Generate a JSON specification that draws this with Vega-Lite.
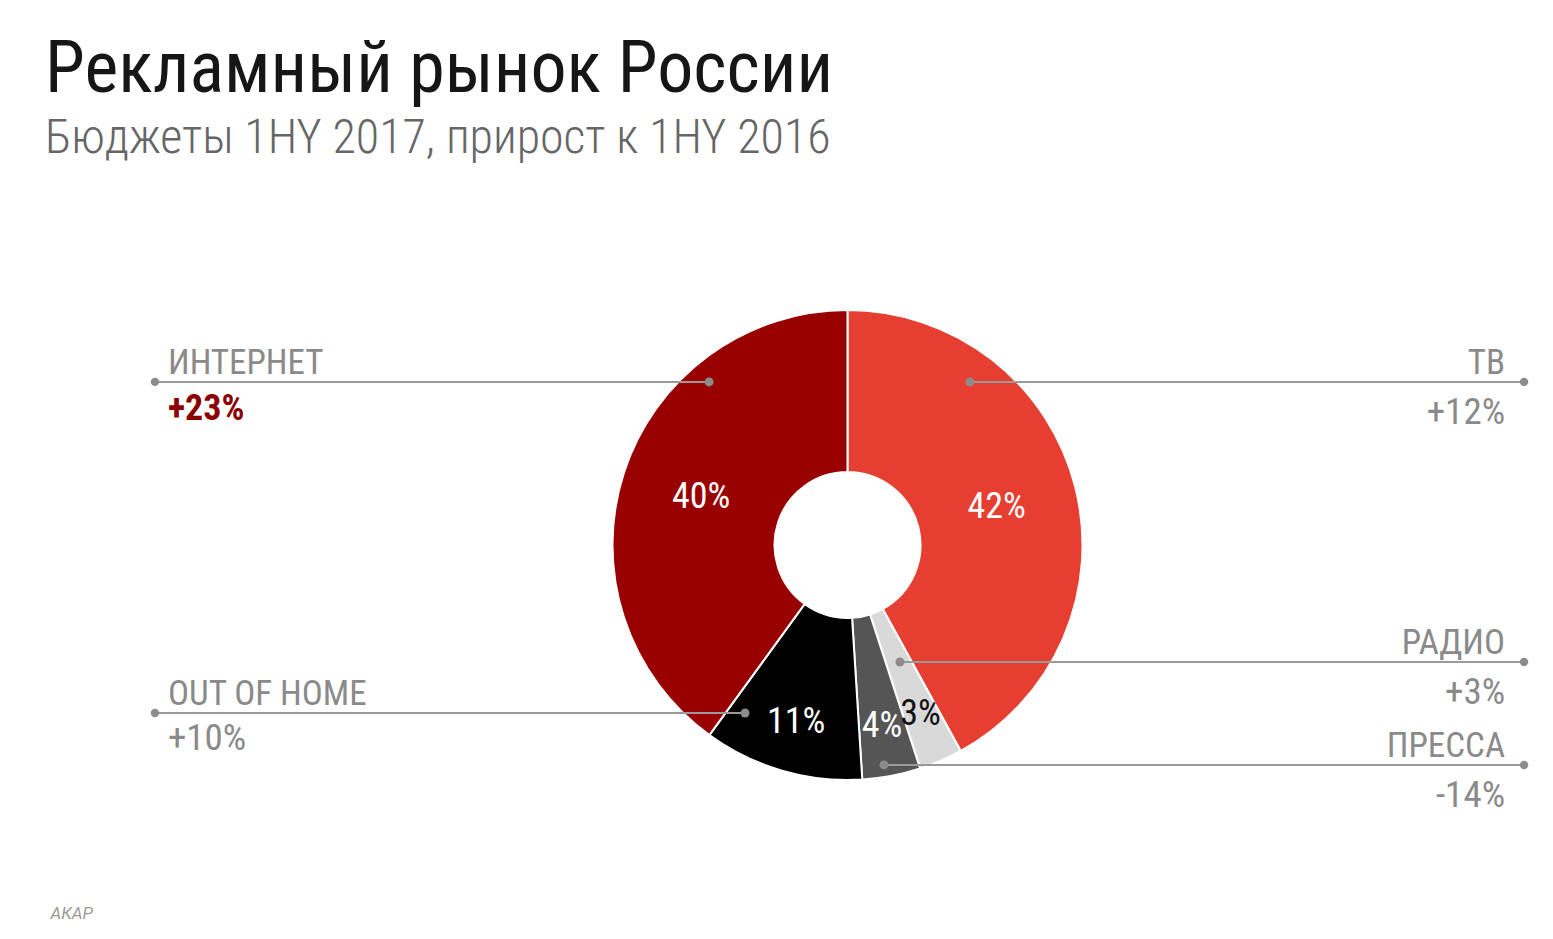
{
  "$schema": "https://vega.github.io/schema/vega-lite/v6.json",
  "width": 1411,
  "height": 690,
  "autosize": {"type": "none"},
  "padding": {"left": 142, "right": 0, "top": 200, "bottom": 49},
  "background": "white",
  "title": {
    "text": "Рекламный рынок России",
    "subtitle": "Бюджеты 1HY 2017, прирост к 1HY 2016",
    "anchor": "start",
    "frame": "group",
    "dx": -97,
    "offset": 36,
    "font": "Roboto Condensed, Liberation Sans Narrow, Roboto",
    "fontSize": 72,
    "fontWeight": 400,
    "color": "#161616",
    "subtitleFont": "Roboto Condensed, Liberation Sans Narrow, Roboto",
    "subtitleFontSize": 48,
    "subtitleFontWeight": 300,
    "subtitleColor": "#666666",
    "subtitlePadding": 8
  },
  "config": {
    "view": {"stroke": null},
    "locale": {"number": {"decimal": ".", "thousands": ",", "grouping": [3], "currency": ["", ""], "minus": "-"}},
    "axisX": {
      "labels": false, "ticks": false, "domain": false, "grid": false,
      "titleFont": "Roboto", "titleFontStyle": "italic", "titleFontWeight": "normal",
      "titleFontSize": 17, "titleColor": "#9a9a9a",
      "titleX": -92, "titleY": 28, "titleAlign": "left", "titleAnchor": "start", "titleBaseline": "alphabetic"
    },
    "text": {"font": "Roboto Condensed, Liberation Sans Narrow, Roboto"}
  },
  "datasets": {
    "slices": [
      {"category": "ТВ", "share": 0.42, "rank": 1},
      {"category": "Радио", "share": 0.03, "rank": 2},
      {"category": "Пресса", "share": 0.04, "rank": 3},
      {"category": "Out of home", "share": 0.11, "rank": 4},
      {"category": "Интернет", "share": 0.40, "rank": 5}
    ],
    "callouts": [
      {"name": "ИНТЕРНЕТ", "growth": 0.23, "side": "left", "y": 0.694, "x_outer": -2.947, "x_inner": -0.589},
      {"name": "OUT OF HOME", "growth": 0.10, "side": "left", "y": -0.715, "x_outer": -2.947, "x_inner": -0.436},
      {"name": "ТВ", "growth": 0.12, "side": "right", "y": 0.694, "x_outer": 2.879, "x_inner": 0.521},
      {"name": "РАДИО", "growth": 0.03, "side": "right", "y": -0.498, "x_outer": 2.879, "x_inner": 0.223},
      {"name": "ПРЕССА", "growth": -0.14, "side": "right", "y": -0.936, "x_outer": 2.879, "x_inner": 0.155}
    ]
  },
  "layer": [
    {
      "data": {"name": "slices"},
      "mark": {"type": "arc", "outerRadius": 235, "innerRadius": 73, "stroke": "white", "strokeWidth": 2},
      "encoding": {
        "theta": {"field": "share", "type": "quantitative", "stack": true},
        "order": {"field": "rank", "type": "quantitative"},
        "color": {
          "field": "category", "type": "nominal", "legend": null,
          "scale": {"domain": ["ТВ", "Радио", "Пресса", "Out of home", "Интернет"],
                    "range": ["#E63E31", "#D9D9D9", "#555555", "#000000", "#990000"]}
        }
      }
    },
    {
      "data": {"name": "slices"},
      "mark": {"type": "text", "radius": 154, "fontSize": 36, "fontWeight": 400, "color": "white"},
      "encoding": {
        "theta": {"field": "share", "type": "quantitative", "stack": true},
        "order": {"field": "rank", "type": "quantitative"},
        "detail": {"field": "category", "type": "nominal"},
        "text": {"condition": {"test": "datum.share >= 0.2", "field": "share", "type": "quantitative", "format": ".0%"}, "value": ""}
      }
    },
    {
      "data": {"name": "slices"},
      "mark": {"type": "text", "radius": 184, "fontSize": 36, "fontWeight": 400},
      "encoding": {
        "theta": {"field": "share", "type": "quantitative", "stack": true},
        "order": {"field": "rank", "type": "quantitative"},
        "detail": {"field": "category", "type": "nominal"},
        "color": {"condition": {"test": "datum.category === 'Радио'", "value": "#111111"}, "value": "white"},
        "text": {"condition": {"test": "datum.share < 0.2", "field": "share", "type": "quantitative", "format": ".0%"}, "value": ""}
      }
    },
    {
      "data": {"name": "callouts"},
      "mark": {"type": "rule", "color": "#9a9a9a", "strokeWidth": 2},
      "encoding": {
        "x": {"field": "x_outer", "type": "quantitative", "title": "АКАР", "scale": {"domain": [-3.0021, 3.0021], "nice": false, "zero": false}},
        "x2": {"field": "x_inner"},
        "y": {"field": "y", "type": "quantitative", "axis": null, "scale": {"domain": [-1.4681, 1.4681], "nice": false, "zero": false}}
      }
    },
    {
      "data": {"name": "callouts"},
      "mark": {"type": "point", "filled": true, "size": 80, "color": "#8c8c8c", "opacity": 1},
      "encoding": {
        "x": {"field": "x_inner", "type": "quantitative", "title": "АКАР"},
        "y": {"field": "y", "type": "quantitative", "axis": null}
      }
    },
    {
      "data": {"name": "callouts"},
      "mark": {"type": "point", "filled": true, "size": 70, "color": "#8c8c8c", "opacity": 1},
      "encoding": {
        "x": {"field": "x_outer", "type": "quantitative", "title": "АКАР"},
        "y": {"field": "y", "type": "quantitative", "axis": null}
      }
    },
    {
      "data": {"name": "callouts"},
      "transform": [{"filter": "datum.side === 'left'"}],
      "mark": {"type": "text", "align": "left", "baseline": "alphabetic", "dx": 13, "dy": -8, "fontSize": 35, "color": "#8a8a8a"},
      "encoding": {
        "x": {"field": "x_outer", "type": "quantitative", "title": "АКАР"},
        "y": {"field": "y", "type": "quantitative", "axis": null},
        "text": {"field": "name", "type": "nominal"}
      }
    },
    {
      "data": {"name": "callouts"},
      "transform": [{"filter": "datum.side === 'right'"}],
      "mark": {"type": "text", "align": "right", "baseline": "alphabetic", "dx": -19, "dy": -8, "fontSize": 35, "color": "#8a8a8a"},
      "encoding": {
        "x": {"field": "x_outer", "type": "quantitative", "title": "АКАР"},
        "y": {"field": "y", "type": "quantitative", "axis": null},
        "text": {"field": "name", "type": "nominal"}
      }
    },
    {
      "data": {"name": "callouts"},
      "transform": [{"filter": "datum.side === 'left' && datum.name !== 'ИНТЕРНЕТ'"}],
      "mark": {"type": "text", "align": "left", "baseline": "alphabetic", "dx": 13, "dy": 37, "fontSize": 37, "color": "#8a8a8a"},
      "encoding": {
        "x": {"field": "x_outer", "type": "quantitative", "title": "АКАР"},
        "y": {"field": "y", "type": "quantitative", "axis": null},
        "text": {"field": "growth", "type": "quantitative", "format": "+.0%"}
      }
    },
    {
      "data": {"name": "callouts"},
      "transform": [{"filter": "datum.name === 'ИНТЕРНЕТ'"}],
      "mark": {"type": "text", "align": "left", "baseline": "alphabetic", "dx": 13, "dy": 38, "fontSize": 36, "fontWeight": "bold", "color": "#8B0000"},
      "encoding": {
        "x": {"field": "x_outer", "type": "quantitative", "title": "АКАР"},
        "y": {"field": "y", "type": "quantitative", "axis": null},
        "text": {"field": "growth", "type": "quantitative", "format": "+.0%"}
      }
    },
    {
      "data": {"name": "callouts"},
      "transform": [{"filter": "datum.side === 'right'"}],
      "mark": {"type": "text", "align": "right", "baseline": "alphabetic", "dx": -19, "dy": 42, "fontSize": 37, "color": "#8a8a8a"},
      "encoding": {
        "x": {"field": "x_outer", "type": "quantitative", "title": "АКАР"},
        "y": {"field": "y", "type": "quantitative", "axis": null},
        "text": {"field": "growth", "type": "quantitative", "format": "+.0%"}
      }
    }
  ]
}
